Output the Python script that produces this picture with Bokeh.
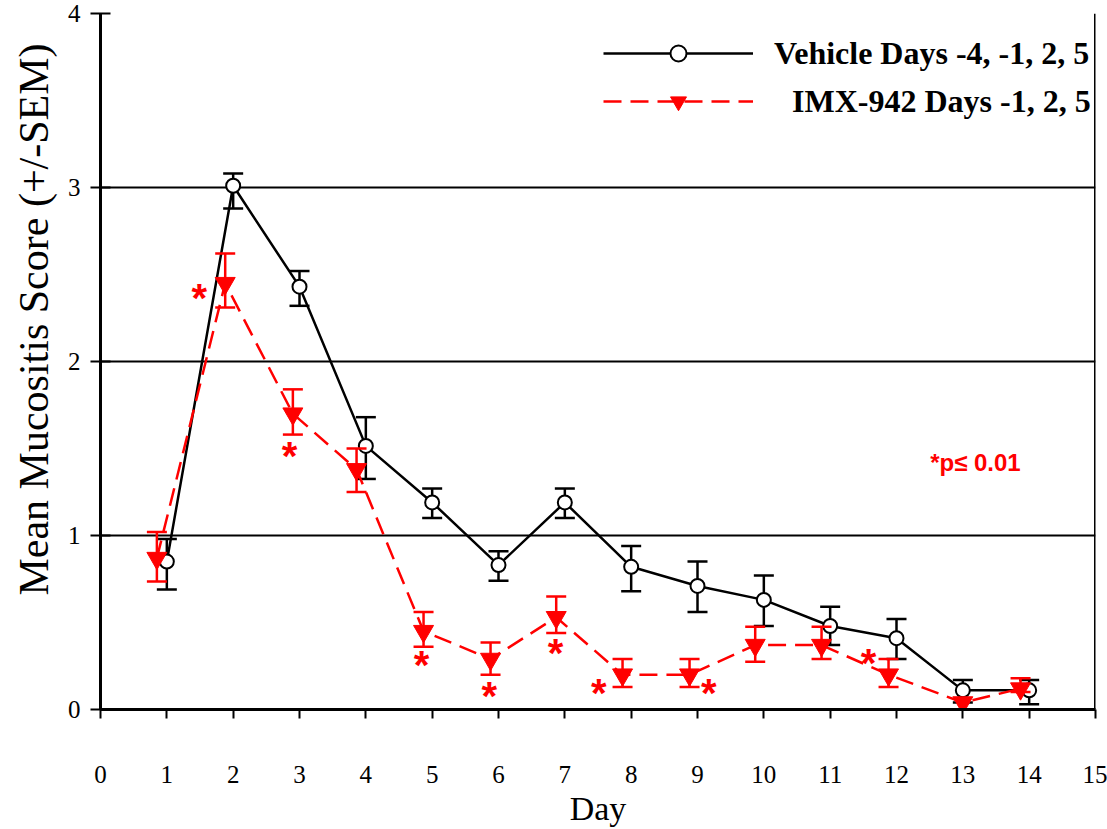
import math
from bokeh.plotting import figure
from bokeh.models import FixedTicker, Legend, LegendItem, Label, Range1d, Span
from bokeh.core.properties import value
from bokeh.embed import file_html
from bokeh.resources import INLINE

NaN = float("nan")

# ---- data ----
days = [1, 2, 3, 4, 5, 6, 7, 8, 9, 10, 11, 12, 13, 14]
vehicle_mean = [0.85, 3.01, 2.43, 1.515, 1.19, 0.83, 1.19, 0.82, 0.71, 0.63, 0.48, 0.41, 0.11, 0.11]
vehicle_upper = [0.98, 3.08, 2.52, 1.68, 1.27, 0.91, 1.27, 0.94, 0.85, 0.77, 0.59, 0.52, 0.17, 0.17]
vehicle_lower = [0.69, 2.88, 2.32, 1.325, 1.10, 0.74, 1.10, 0.68, 0.56, 0.48, 0.37, 0.29, 0.04, 0.03]

imx_days = [0.85, 1.88, 2.9, 3.86, 4.87, 5.88, 6.87, 7.87, 8.88, 9.87, 10.87, 11.88, 13.0, 13.87]
imx_mean = [0.87, 2.45, 1.70, 1.38, 0.45, 0.29, 0.53, 0.20, 0.20, 0.37, 0.37, 0.20, 0.04, 0.12]
imx_upper = [1.02, 2.62, 1.84, 1.50, 0.56, 0.385, 0.65, 0.29, 0.29, 0.475, 0.475, 0.29, NaN, 0.18]
imx_lower = [0.735, 2.31, 1.58, 1.25, 0.36, 0.20, 0.44, 0.13, 0.13, 0.275, 0.29, 0.13, NaN, 0.10]

# significance asterisks (x, y)
star_x = [1.49, 2.85, 4.84, 5.86, 6.86, 7.51, 9.17, 11.58]
star_y = [2.40, 1.49, 0.29, 0.11, 0.36, 0.13, 0.13, 0.30]

# stray blue baseline segment
blue_x = [13.27, 13.93]
blue_y = [0.0, 0.0]

x_ticks = list(range(0, 16))
y_ticks = [0, 1, 2, 3, 4]
grid_ticks = [1, 2, 3]

legend_labels = ["Vehicle Days -4, -1, 2, 5", "IMX-942 Days -1, 2, 5"]
x_title = "Day"
y_title = "Mean Mucositis Score (+/-SEM)"
p_note = "*p\u2264 0.01"
p_note_pos = (13.19, 1.42)

SERIF = "Liberation Serif"
SANS = "Liberation Sans"
RED = "#ff0000"

p = figure(width=1107, height=829, output_backend="svg", toolbar_location=None,
           x_range=Range1d(0, 15), y_range=Range1d(0, 4),
           min_border_left=100, min_border_right=12, min_border_top=13, min_border_bottom=119)
p.outline_line_color = None
p.background_fill_color = "white"
p.border_fill_color = "white"

# grid
p.xgrid.visible = False
p.ygrid.ticker = FixedTicker(ticks=grid_ticks)
p.ygrid.grid_line_color = "black"
p.ygrid.grid_line_width = 2

# axes
xa = p.xaxis[0]
xa.ticker = FixedTicker(ticks=x_ticks)
xa.axis_line_width = 3
xa.major_tick_line_width = 2
xa.major_tick_in = 0
xa.major_tick_out = 9
xa.minor_tick_line_color = None
xa.major_label_standoff = 47
xa.major_label_text_font = SERIF
xa.major_label_text_font_size = "25px"
xa.major_label_text_color = "black"
xa.axis_label = x_title
xa.axis_label_text_font = SERIF
xa.axis_label_text_font_size = "34px"
xa.axis_label_text_font_style = "normal"
xa.axis_label_text_color = "black"
xa.axis_label_standoff = 4

ya = p.yaxis[0]
ya.ticker = FixedTicker(ticks=y_ticks)
ya.axis_line_width = 3
ya.major_tick_line_width = 2
ya.major_tick_in = 10
ya.major_tick_out = 10
ya.minor_tick_line_color = None
ya.major_label_standoff = 10
ya.major_label_text_font = SERIF
ya.major_label_text_font_size = "25px"
ya.major_label_text_color = "black"
# leading no-break spaces nudge the centred title up, as in the reference
ya.axis_label = "\u00a0" * 8 + y_title
ya.axis_label_text_font = SERIF
ya.axis_label_text_font_size = "42px"
ya.axis_label_text_font_style = "normal"
ya.axis_label_text_color = "black"
ya.axis_label_standoff = 8

# right frame line
p.add_layout(Span(location=15, dimension="height", line_color="black", line_width=3))

# stray blue segment
p.line(blue_x, blue_y, line_color="#3333ff", line_width=3, line_dash="24 6")

# vehicle series
vline = p.line(days, vehicle_mean, line_color="black", line_width=2.5)
p.segment(x0=days, y0=vehicle_lower, x1=days, y1=vehicle_upper, line_color="black", line_width=2.5)
p.scatter(days, vehicle_upper, marker="dash", size=20, line_color="black", line_width=2.5)
p.scatter(days, vehicle_lower, marker="dash", size=20, line_color="black", line_width=2.5)
vscat = p.scatter(days, vehicle_mean, marker="circle", size=14, fill_color="white",
                  line_color="black", line_width=2)

# IMX series
rline = p.line(imx_days, imx_mean, line_color=RED, line_width=2.5, line_dash="18 9")
p.segment(x0=imx_days, y0=imx_lower, x1=imx_days, y1=imx_upper, line_color=RED, line_width=2.5)
p.scatter(imx_days, imx_upper, marker="dash", size=20, line_color=RED, line_width=2.5)
p.scatter(imx_days, imx_lower, marker="dash", size=20, line_color=RED, line_width=2.5)
rscat = p.scatter(imx_days, imx_mean, marker="inverted_triangle", size=20, fill_color=RED,
                  line_color=RED, line_width=1)

# asterisks
p.text(x=star_x, y=star_y, text=["*"] * len(star_x), text_font=value(SANS),
       text_font_style="bold", text_font_size="40px", text_color=RED,
       text_align="center", text_baseline="middle", y_offset=6)

# p-value note
p.add_layout(Label(x=p_note_pos[0], y=p_note_pos[1], text=p_note, text_font=SANS,
                   text_font_style="bold", text_font_size="24px", text_color=RED,
                   text_align="center", text_baseline="middle"))

legend_style = dict(glyph_width=150, glyph_height=40, label_height=40, spacing=0,
                    padding=0, margin=0, border_line_color=None, background_fill_alpha=0,
                    label_text_font=SERIF, label_text_font_style="bold",
                    label_text_font_size="32px", label_text_color="black")
legend1 = Legend(items=[LegendItem(label=legend_labels[0], renderers=[vline, vscat])],
                 location=(503, 636), label_standoff=21, **legend_style)
legend2 = Legend(items=[LegendItem(label=legend_labels[1], renderers=[rline, rscat])],
                 location=(503, 588), label_standoff=39, **legend_style)
p.add_layout(legend1)
p.add_layout(legend2)

open("out.html", "w").write(file_html(p, INLINE))
